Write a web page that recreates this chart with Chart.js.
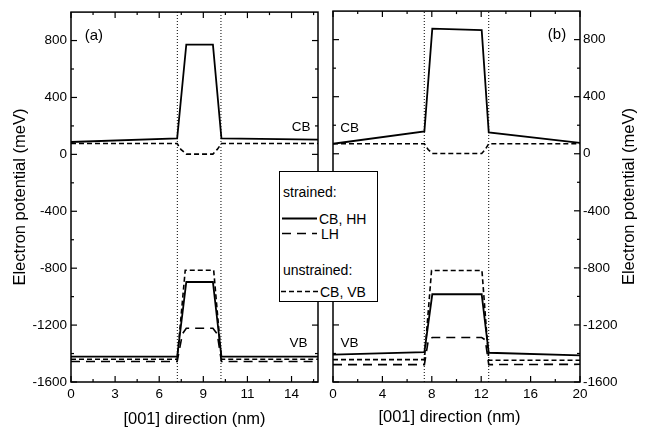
<!DOCTYPE html>
<html>
<head>
<meta charset="utf-8">
<script src="https://cdn.jsdelivr.net/npm/chart.js@4.4.1/dist/chart.umd.min.js"></script>
<style>
  body { margin: 0; background: #fff; }
  #wrap { position: relative; width: 647px; height: 431px; overflow: hidden; }
  #chartA { position: absolute; left: 0; top: 0; }
  #chartB { position: absolute; left: 325px; top: 0; }
  #legend { position: absolute; left: 279px; top: 171px; }
</style>
</head>
<body>
<div id="wrap">
  <canvas id="chartA" width="325" height="431"></canvas>
  <canvas id="chartB" width="322" height="431"></canvas>
  <svg id="legend" width="99" height="131" font-family="Liberation Sans, Arial, sans-serif" font-size="14">
    <rect x="0.5" y="0.5" width="98" height="130" fill="#fff" stroke="#000" stroke-width="1"/>
    <text x="4" y="26">strained:</text>
    <line x1="3" y1="47.5" x2="38" y2="47.5" stroke="#000" stroke-width="1.8"/>
    <text x="40" y="52.5">CB, HH</text>
    <line x1="3" y1="62.5" x2="38" y2="62.5" stroke="#000" stroke-width="1.6" stroke-dasharray="9,6"/>
    <text x="42" y="67.5">LH</text>
    <text x="4" y="104">unstrained:</text>
    <line x1="2" y1="120.5" x2="39" y2="120.5" stroke="#000" stroke-width="1.6" stroke-dasharray="5,3"/>
    <text x="41" y="125.5">CB, VB</text>
  </svg>
</div>
<script>
// ---- panel (a) data, x in nm, y in meV ----
const aBounds = [6.87, 9.69];
const aCbX = [0, 6.86, 7.45, 9.17, 9.72, 15.96];
const aCbStrained = [87, 112, 772, 772, 112, 103];
const aCbUnX = [0, 6.86, 7.1, 7.45, 9.17, 9.45, 9.72, 15.96];
const aCbUnstrained = [76, 76, 35, 2, 2, 35, 76, 76];
const aHhX = [0, 6.86, 7.45, 9.17, 9.72, 15.96];
const aHh = [-1422, -1422, -897, -897, -1422, -1422];
const aLhX = [0, 6.86, 7.2, 7.45, 9.17, 9.45, 9.72, 15.96];
const aLh = [-1456, -1456, -1262, -1222, -1222, -1262, -1456, -1456];
const aVbUnX = [0, 6.86, 7.38, 9.22, 9.72, 15.96];
const aVbUnstrained = [-1440, -1440, -815, -815, -1440, -1440];

// ---- panel (b) data ----
const bBounds = [7.39, 12.61];
const bCbX = [0, 7.40, 8.04, 12.04, 12.61, 20];
const bCbStrained = [70, 157, 877, 866, 150, 76];
const bCbUnX = [0, 7.40, 7.7, 8.04, 12.04, 12.33, 12.61, 20];
const bCbUnstrained = [70, 70, 30, 2, 2, 30, 70, 70];
const bHhX = [0, 7.40, 8.04, 12.04, 12.61, 20];
const bHh = [-1408, -1390, -985, -985, -1395, -1413];
const bLhX = [0, 7.40, 7.72, 8.04, 12.04, 12.33, 12.61, 20];
const bLh = [-1478, -1478, -1305, -1288, -1288, -1305, -1478, -1476];
const bVbUnX = [0, 7.40, 7.98, 12.06, 12.61, 20];
const bVbUnstrained = [-1443, -1443, -818, -818, -1447, -1448];

// ---- ticks ----
const aXTicks = [0, 2.85, 5.7, 8.55, 11.4, 14.25];
const aXLabels = ['0', '3', '6', '9', '11', '14'];
const aXMinor = [1.425, 4.275, 7.125, 9.975, 12.825, 15.675];
const bXTicks = [0, 4, 8, 12, 16, 20];
const bXLabels = ['0', '4', '8', '12', '16', '20'];
const bXMinor = [2, 6, 10, 14, 18];
const yTicks = [-1600, -1200, -800, -400, 0, 400, 800];
const yMinor = [-1400, -1000, -600, -200, 200, 600];
const Y_MIN = -1600, Y_MAX = 1000;

const FONT = "'Liberation Sans', Arial, sans-serif";
const TITLE = 'Electron potential (meV)';
const XTITLE = '[001] direction (nm)';

const pts = (xs, ys) => xs.map((x, i) => ({ x, y: ys[i] }));

function series(xs, ys, kind) {
    const dash = { solid: [], lh: [9, 6], un: [5, 3] }[kind];
    return { data: pts(xs, ys), borderColor: '#000', borderWidth: kind === 'solid' ? 1.8 : 1.6,
             borderDash: dash, pointRadius: 0, tension: 0, fill: false };
}

function boundary(x) {
    return { data: [{ x, y: Y_MIN }, { x, y: Y_MAX }], borderColor: '#000', borderWidth: 1,
             borderDash: [1, 2], pointRadius: 0, fill: false };
}

// inward ticks on all four sides plus the frame
const frameTicks = {
    id: 'frameTicks',
    afterDatasetsDraw(chart, args, o) {
        const { ctx, chartArea: a, scales: { x, y } } = chart;
        ctx.save();
        ctx.strokeStyle = '#000';
        const seg = (x1, y1, x2, y2) => { ctx.beginPath(); ctx.moveTo(x1, y1); ctx.lineTo(x2, y2); ctx.stroke(); };
        ctx.lineWidth = 1.2;
        const xs = (vals, len) => vals.forEach(v => {
            const p = x.getPixelForValue(v);
            seg(p, a.bottom, p, a.bottom - len); seg(p, a.top, p, a.top + len);
        });
        const ys = (vals, len) => vals.forEach(v => {
            const p = y.getPixelForValue(v);
            seg(a.left, p, a.left + len, p); seg(a.right, p, a.right - len, p);
        });
        xs(o.xMajor, 6); xs(o.xMinor, 3);
        ys(yTicks, 6); ys(yMinor, 3);
        ctx.lineWidth = 1.5;
        ctx.strokeRect(a.left, a.top, a.right - a.left, a.bottom - a.top);
        ctx.restore();
    }
};

// in-plot labels (data coords) and axis titles
const notes = {
    id: 'notes',
    afterDraw(chart, args, o) {
        const { ctx, chartArea: a, scales: { x, y } } = chart;
        ctx.save();
        ctx.fillStyle = '#000';
        ctx.textAlign = 'center';
        ctx.textBaseline = 'middle';
        o.labels.forEach(l => {
            ctx.font = l.size + 'px ' + FONT;
            ctx.fillText(l.t, x.getPixelForValue(l.x), y.getPixelForValue(l.y));
        });
        ctx.font = '16.5px ' + FONT;
        ctx.fillText(XTITLE, (a.left + a.right) / 2 + o.xTitleDx, o.xTitleY);
        ctx.translate(o.yTitleX, (a.top + a.bottom) / 2);
        ctx.rotate(-Math.PI / 2);
        ctx.fillText(TITLE, 0, 0);
        ctx.restore();
    }
};

function makePanel(id, cfg) {
    return new Chart(document.getElementById(id), {
        type: 'line',
        data: { datasets: [
            boundary(cfg.bounds[0]), boundary(cfg.bounds[1]),
            series(cfg.cbX, cfg.cbU, 'un'),
            series(cfg.vbUX, cfg.vbU, 'un'),
            series(cfg.lhX, cfg.lh, 'lh'),
            series(cfg.cbX2, cfg.cb, 'solid'),
            series(cfg.hhX, cfg.hh, 'solid')
        ] },
        options: {
            responsive: false, animation: false, devicePixelRatio: 1,
            layout: { padding: cfg.padding },
            plugins: {
                legend: { display: false }, tooltip: { enabled: false },
                frameTicks: { xMajor: cfg.xTicks, xMinor: cfg.xMinor },
                notes: cfg.notes
            },
            scales: {
                x: {
                    type: 'linear', min: 0, max: cfg.xMax,
                    grid: { display: false, drawTicks: false }, border: { display: false },
                    afterBuildTicks: s => { s.ticks = cfg.xTicks.map(v => ({ value: v })); },
                    afterFit: s => { s.height = 49; },
                    ticks: { autoSkip: false, maxRotation: 0, padding: 4, color: '#000',
                             font: { family: FONT, size: 13.5 },
                             callback: (v, i) => cfg.xLabels[i] }
                },
                y: {
                    type: 'linear', position: cfg.yPos, min: Y_MIN, max: Y_MAX,
                    grid: { display: false, drawTicks: false }, border: { display: false },
                    afterBuildTicks: s => { s.ticks = yTicks.map(v => ({ value: v })); },
                    afterFit: s => { s.width = cfg.yWidth; },
                    ticks: { padding: cfg.yPad, color: '#000', font: { family: FONT, size: 13.5 },
                             callback: v => String(v) }
                }
            }
        },
        plugins: [frameTicks, notes]
    });
}

makePanel('chartA', {
    bounds: aBounds, xMax: 15.96, xTicks: aXTicks, xLabels: aXLabels, xMinor: aXMinor,
    cbX: aCbUnX, cbU: aCbUnstrained, vbUX: aVbUnX, vbU: aVbUnstrained,
    lhX: aLhX, lh: aLh, cbX2: aCbX, cb: aCbStrained, hhX: aHhX, hh: aHh,
    padding: { left: 0, top: 9, right: 7, bottom: 0 }, yPos: 'left', yWidth: 71, yPad: 4,
    notes: {
        labels: [
            { t: '(a)', x: 1.48, y: 830, size: 15 },
            { t: 'CB', x: 14.87, y: 192, size: 13.5 },
            { t: 'VB', x: 14.7, y: -1327, size: 13.5 }
        ],
        xTitleDx: 0, xTitleY: 419, yTitleX: 20
    }
});

makePanel('chartB', {
    bounds: bBounds, xMax: 20, xTicks: bXTicks, xLabels: bXLabels, xMinor: bXMinor,
    cbX: bCbUnX, cbU: bCbUnstrained, vbUX: bVbUnX, vbU: bVbUnstrained,
    lhX: bLhX, lh: bLh, cbX2: bCbX, cb: bCbStrained, hhX: bHhX, hh: bHh,
    padding: { left: 8, top: 9, right: 0, bottom: 0 }, yPos: 'right', yWidth: 67, yPad: 3,
    notes: {
        labels: [
            { t: '(b)', x: 18.14, y: 830, size: 15 },
            { t: 'CB', x: 1.34, y: 178, size: 13.5 },
            { t: 'VB', x: 1.34, y: -1327, size: 13.5 }
        ],
        xTitleDx: -7, xTitleY: 417, yTitleX: 304
    }
});
</script>
</body>
</html>
